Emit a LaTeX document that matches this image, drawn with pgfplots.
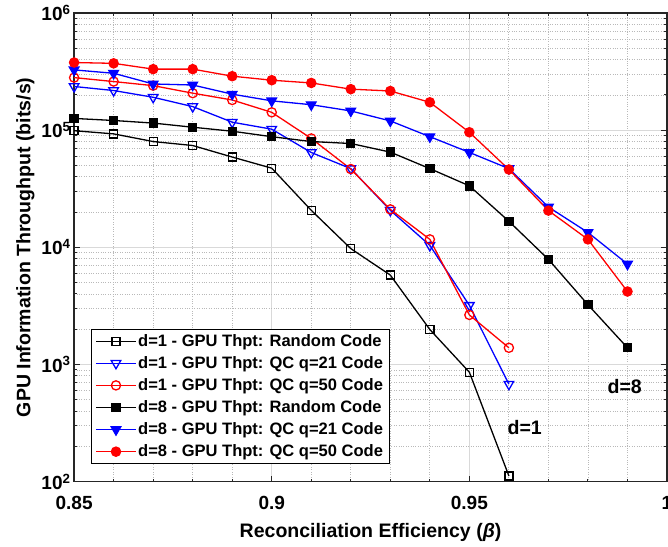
\documentclass[border=0pt]{standalone}
\usepackage{fontspec}
\setmainfont{Liberation Sans}
\usepackage{pgfplots}
\pgfplotsset{compat=1.18}
\definecolor{axgray}{RGB}{38,38,38}
\begin{document}
\begin{tikzpicture}
\begin{axis}[
  name=ax,
  scale only axis,
  width=592pt, height=468pt,
  xmin=0.85, xmax=1,
  ymode=log, log basis y=10,
  ymin=100, ymax=1000000,
  xtick={0.85,0.9,0.95,1},
  xticklabels={0.85,0.9,0.95,1},
  minor x tick num=4,
  yticklabel={10\textsuperscript{\pgfmathparse{int(round(\tick))}\pgfmathresult}},
  /pgf/number format/assume math mode=true,
  tick label style={font=\fontsize{19}{19}\selectfont\bfseries},
  xticklabel style={yshift=-11pt},
  tick align=inside,
  tick pos=both,
  major tick length=6pt,
  minor tick length=3pt,
  every tick/.style={axgray, line width=1pt},
  axis line style={axgray, line width=1.5pt},
  grid=both,
  major grid style={gray!30, line width=0.9pt},
  minor grid style={gray!55, dotted, line width=0.8pt},
  xlabel={Reconciliation Efficiency (\textit{β})},
  ylabel={GPU Information Throughput (bits/s)},
  label style={font=\fontsize{19.5}{20}\selectfont\bfseries},
  xlabel style={yshift=-7pt},
  ylabel style={yshift=0pt},
  legend style={at={(0.029,0.038)}, anchor=south west, draw=black, line width=1pt,
    font=\fontsize{16.5}{19}\selectfont\bfseries, row sep=4.6pt, inner xsep=4pt, inner ysep=3pt},
  legend cell align=left,
  legend image code/.code={\draw[mark repeat=2,mark phase=2] plot coordinates {(0pt,0pt)(19.5pt,0pt)(39pt,0pt)};},
  every axis plot/.append style={line width=1.3pt},
]
% d=1 Random
\addplot[black, mark=square, mark size=4pt, mark options={solid, fill=white, line width=1.3pt}] coordinates {
(0.85,99000)(0.86,93000)(0.87,80000)(0.88,74000)(0.89,59000)(0.90,47400)(0.91,20700)(0.92,9760)(0.93,5800)(0.94,1990)(0.95,860)(0.96,112)};
\addlegendentry{d=1 - GPU Thpt: Random Code}
% d=1 QC21
\addplot[blue, mark=triangle, mark size=5.5pt, mark options={solid, fill=white, line width=1.3pt, rotate=180}] coordinates {
(0.85,236000)(0.86,218000)(0.87,191000)(0.88,159000)(0.89,117000)(0.90,102000)(0.91,64500)(0.92,47000)(0.93,20700)(0.94,10400)(0.95,3200)(0.96,680)};
\addlegendentry{d=1 - GPU Thpt: QC q=21 Code}
% d=1 QC50
\addplot[red, mark=o, mark size=4.6pt, mark options={solid, fill=white, line width=1.3pt}] coordinates {
(0.85,281000)(0.86,260000)(0.87,240000)(0.88,207000)(0.89,181000)(0.90,142000)(0.91,85000)(0.92,46600)(0.93,21100)(0.94,11700)(0.95,2650)(0.96,1390)};
\addlegendentry{d=1 - GPU Thpt: QC q=50 Code}
% d=8 Random
\addplot[black, mark=square*, mark size=4pt, mark options={solid, fill=black}] coordinates {
(0.85,126000)(0.86,121000)(0.87,115000)(0.88,106000)(0.89,98000)(0.90,88000)(0.91,80000)(0.92,77000)(0.93,65000)(0.94,47000)(0.95,33500)(0.96,16700)(0.97,7900)(0.98,3240)(0.99,1390)};
\addlegendentry{d=8 - GPU Thpt: Random Code}
% d=8 QC21
\addplot[blue, mark=triangle*, mark size=5.5pt, mark options={solid, fill=blue, rotate=180}] coordinates {
(0.85,327000)(0.86,306000)(0.87,248000)(0.88,243000)(0.89,203000)(0.90,178000)(0.91,165000)(0.92,146000)(0.93,120000)(0.94,88000)(0.95,64600)(0.96,47000)(0.97,22100)(0.98,13400)(0.99,7200)};
\addlegendentry{d=8 - GPU Thpt: QC q=21 Code}
% d=8 QC50
\addplot[red, mark=*, mark size=4.6pt, mark options={solid, fill=red}] coordinates {
(0.85,378000)(0.86,372000)(0.87,332000)(0.88,332000)(0.89,289000)(0.90,267000)(0.91,253000)(0.92,224000)(0.93,216000)(0.94,173000)(0.95,96000)(0.96,46200)(0.97,20600)(0.98,11700)(0.99,4200)};
\addlegendentry{d=8 - GPU Thpt: QC q=50 Code}
\node[font=\fontsize{19.5}{20}\selectfont\bfseries] at (axis cs:0.9640,290) {d=1};
\node[font=\fontsize{19.5}{20}\selectfont\bfseries] at (axis cs:0.9893,646) {d=8};
\end{axis}
\pgfresetboundingbox
\path ([shift={(-74pt,-65pt)}]ax.south west) rectangle ([shift={(1pt,13pt)}]ax.north east);
\end{tikzpicture}
\end{document}
